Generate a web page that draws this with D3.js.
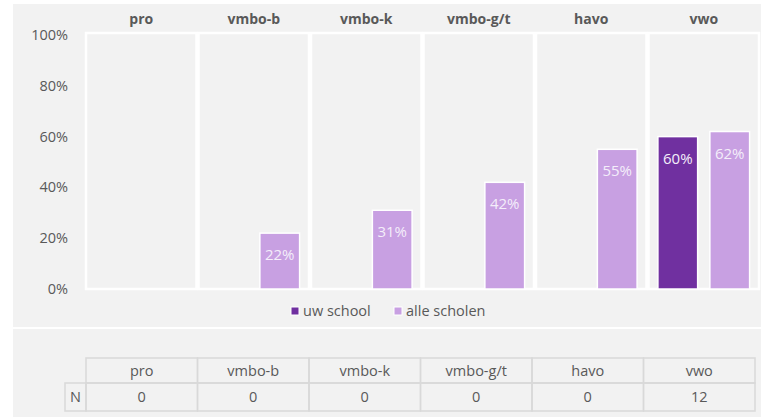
<!DOCTYPE html>
<html>
<head>
<meta charset="utf-8">
<script src="https://cdn.jsdelivr.net/npm/d3@7"></script>
<style>
  body { margin: 0; background: #fff; }
  svg { display: block; font-family: "Open Sans", sans-serif; }
</style>
</head>
<body>
<div id="chart"></div>
<script>
const categories = ["pro", "vmbo-b", "vmbo-k", "vmbo-g/t", "havo", "vwo"];
const seriesNames = ["uw school", "alle scholen"];
const uwSchool = [null, null, null, null, null, 60];
const alleScholen = [null, 22, 31, 42, 55, 62];
const nValues = [0, 0, 0, 0, 0, 12];
const yTicks = [0, 20, 40, 60, 80, 100];

const colors = { "uw school": "#7030a0", "alle scholen": "#c8a0e2" };
const textColor = "#595959";

const width = 764, height = 417;
const svg = d3.select("#chart").append("svg")
    .attr("width", width)
    .attr("height", height);

// background panels
svg.append("rect").attr("x", 13).attr("y", 4).attr("width", 748).attr("height", 323).attr("fill", "#f2f2f2");
svg.append("rect").attr("x", 13).attr("y", 329).attr("width", 748).attr("height", 88).attr("fill", "#f2f2f2");

const plot = { left: 85, right: 760, top: 33, bottom: 289 };

const x = d3.scaleBand()
    .domain(categories)
    .range([plot.left, plot.right])
    .padding(0);

const xInner = d3.scaleBand()
    .domain(seriesNames)
    .range([0, x.bandwidth()])
    .paddingInner(0.235)
    .paddingOuter(0.2);

const y = d3.scaleLinear()
    .domain([0, 100])
    .range([plot.bottom, plot.top + 2]);

// y tick labels
svg.append("g")
    .selectAll("text")
    .data(yTicks)
    .join("text")
    .attr("x", 68)
    .attr("y", d => y(d))
    .attr("dy", "0.35em")
    .attr("text-anchor", "end")
    .attr("fill", textColor)
    .style("font-size", "14.5px")
    .text(d => d + "%");

// facet panels
svg.append("g")
    .selectAll("rect")
    .data(categories)
    .join("rect")
    .attr("x", d => x(d) + 1)
    .attr("y", plot.top)
    .attr("width", x.bandwidth() - 2)
    .attr("height", plot.bottom - plot.top)
    .attr("fill", "none")
    .attr("stroke", "#fff")
    .attr("stroke-width", 2.5);

// facet headers
svg.append("g")
    .selectAll("text")
    .data(categories)
    .join("text")
    .attr("x", d => x(d) + x.bandwidth() / 2)
    .attr("y", 19)
    .attr("dy", "0.35em")
    .attr("text-anchor", "middle")
    .attr("fill", textColor)
    .style("font-size", "14px")
    .style("font-weight", "bold")
    .text(d => d);

// bars
const barData = [];
categories.forEach((c, i) => {
    if (uwSchool[i] != null) barData.push({ cat: c, series: "uw school", value: uwSchool[i] });
    if (alleScholen[i] != null) barData.push({ cat: c, series: "alle scholen", value: alleScholen[i] });
});

const bars = svg.append("g")
    .selectAll("g")
    .data(barData)
    .join("g");

bars.append("rect")
    .attr("x", d => x(d.cat) + xInner(d.series))
    .attr("y", d => y(d.value))
    .attr("width", xInner.bandwidth())
    .attr("height", d => y(0) - y(d.value))
    .attr("fill", d => colors[d.series])
    .attr("stroke", "#fff")
    .attr("stroke-width", 1.5);

bars.append("text")
    .attr("x", d => x(d.cat) + xInner(d.series) + xInner.bandwidth() / 2)
    .attr("y", d => y(d.value) + 27)
    .attr("text-anchor", "middle")
    .attr("fill", "#f4eefa")
    .style("font-size", "15px")
    .text(d => d.value + "%");

// legend
const legend = svg.append("g");
const legendItems = [
    { name: "uw school", x: 291 },
    { name: "alle scholen", x: 394 }
];
legend.selectAll("rect")
    .data(legendItems)
    .join("rect")
    .attr("x", d => d.x)
    .attr("y", 307)
    .attr("width", 8)
    .attr("height", 8)
    .attr("fill", d => colors[d.name])
    .attr("stroke", "#fff")
    .attr("stroke-width", 1);
legend.selectAll("text")
    .data(legendItems)
    .join("text")
    .attr("x", d => d.x + 12)
    .attr("y", 311)
    .attr("dy", "0.35em")
    .attr("fill", textColor)
    .style("font-size", "14.5px")
    .text(d => d.name);

// table
const tx = d3.scaleBand()
    .domain(categories)
    .range([86, 755]);
const row1 = { top: 358, bottom: 383 };
const row2 = { top: 383, bottom: 411 };
const borderColor = "#d9d9d9";

const table = svg.append("g");
table.selectAll("rect.head")
    .data(categories)
    .join("rect")
    .attr("class", "head")
    .attr("x", d => tx(d))
    .attr("y", row1.top)
    .attr("width", tx.bandwidth())
    .attr("height", row1.bottom - row1.top)
    .attr("fill", "none")
    .attr("stroke", borderColor)
    .attr("stroke-width", 1.5);
table.selectAll("rect.cell")
    .data(categories)
    .join("rect")
    .attr("class", "cell")
    .attr("x", d => tx(d))
    .attr("y", row2.top)
    .attr("width", tx.bandwidth())
    .attr("height", row2.bottom - row2.top)
    .attr("fill", "none")
    .attr("stroke", borderColor)
    .attr("stroke-width", 1.5);
table.append("rect")
    .attr("x", 65)
    .attr("y", row2.top)
    .attr("width", 86 - 65)
    .attr("height", row2.bottom - row2.top)
    .attr("fill", "none")
    .attr("stroke", borderColor)
    .attr("stroke-width", 1.5);
table.append("text")
    .attr("x", 70)
    .attr("y", (row2.top + row2.bottom) / 2)
    .attr("dy", "0.35em")
    .attr("fill", textColor)
    .style("font-size", "14.5px")
    .text("N");
table.selectAll("text.headtxt")
    .data(categories)
    .join("text")
    .attr("class", "headtxt")
    .attr("x", d => tx(d) + tx.bandwidth() / 2)
    .attr("y", (row1.top + row1.bottom) / 2)
    .attr("dy", "0.35em")
    .attr("text-anchor", "middle")
    .attr("fill", textColor)
    .style("font-size", "14.5px")
    .text(d => d);
table.selectAll("text.ntxt")
    .data(nValues)
    .join("text")
    .attr("class", "ntxt")
    .attr("x", (d, i) => tx(categories[i]) + tx.bandwidth() / 2)
    .attr("y", (row2.top + row2.bottom) / 2)
    .attr("dy", "0.35em")
    .attr("text-anchor", "middle")
    .attr("fill", textColor)
    .style("font-size", "14.5px")
    .text(d => d);
</script>
</body>
</html>
